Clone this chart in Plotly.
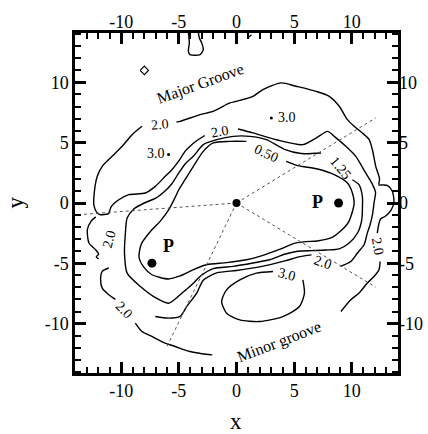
import plotly.graph_objects as go

# ---------------- data ----------------
# 2.0 contour, major-groove outer boundary (None = label gap)
c20_outer_x = [-11.07, -11.78, -12.07, -12.36, -12.3, -12.07, -11.64, -10.78, -9.91, -9.05, -8.19, None,
               -5.2, -4.89, -3.16, -2.04, -0.58, 0.0, 1.43, 2.29, 3.88, 5.17, 6.90, 8.04, 8.91, 9.62, 10.20,
               10.91, 11.49, 11.78, 12.07, 12.4, 12.35, 12.7, 13.1, 13.5, 13.65, 13.4, 12.9, 12.5, 12.35, 12.2, None,
               12.45, 12.35, 11.92, 11.34, 10.63, 9.91, 9.05]
c20_outer_y = [-0.89, -0.97, -0.83, -0.2, 1.1, 2.21, 3.04, 3.87, 4.70, 5.67, 6.36, None,
               6.72, 6.77, 7.33, 7.60, 8.30, 8.44, 8.85, 9.41, 9.96, 9.68, 9.26, 8.85, 8.02, 6.91, 6.36,
               5.81, 5.27, 4.42, 3.04, 2.0, 1.5, 1.5, 1.45, 1.0, 0.1, -0.6, -1.1, -1.3, -1.7, -2.5, None,
               -4.85, -5.53, -6.09, -6.64, -7.47, -8.02, -9.0]
# 2.0 contour, inner branch
c20_inner_x = [-11.07, -10.84, -10.2, -9.34, -7.9, -7.04, -6.18, -5.6, -5.03, -4.46, -4.03, -3.4, -2.75, None,
               0.14, 1.43, 3.45, 5.74, 6.9, 7.9, 8.47, 9.48, 10.34, 11.2, 11.7, 12.05, 11.92, 11.8, 11.58, 11.34,
               11.06, 10.48, 9.91, 9.0, None,
               6.5, 5.5, 4.2, 2.0, 0.0, -1.72, -2.88, -3.45, -4.31, -4.89, -5.9, -7.04]
c20_inner_y = [-0.89, -0.28, 0.27, 0.69, 0.83, 1.38, 2.21, 2.76, 3.45, 4.28, 4.70, 5.2, 5.6, None,
               6.14, 5.81, 5.25, 4.84, 5.39, 5.94, 5.53, 4.70, 3.87, 2.49, 1.7, 0.9, 0.0, -0.9, -1.8, -2.49,
               -3.46, -4.15, -4.85, -5.25, None,
               -4.3, -4.45, -4.8, -5.3, -5.6, -5.8, -6.4, -7.47, -8.58, -9.41, -9.55, -9.41]
# 2.0 contour, left piece
c20_left_x = [-12.2, -12.6, -12.93, -12.79, -12.22, -11.95, -12.15, -11.95]
c20_left_y = [-1.15, -1.5, -2.21, -3.32, -3.87, -4.25, -4.45, -4.65]
# 2.0 contour, lower-left (minor groove outer)
c20_ll_x = [-11.07, -11.64, -11.78, -11.64, -11.07, -10.5, None, -8.77, -8.19, -7.33, -6.18, -5.32, -4.03, -3.0, -2.1]
c20_ll_y = [-5.39, -5.67, -6.37, -7.06, -7.61, -8.0, None, -9.96, -10.66, -11.07, -11.62, -11.9, -12.32, -12.5, -12.6]
# 1.25 contour
c125_x = [7.33, 5.6, 4.16, 2.59, 1.15, -0.29, -1.72, -2.88, -3.74, -4.4, -5.0, -5.6, -6.2, -7.0, -8.0, -8.9,
          -9.48, -9.63, -9.71, -9.48, -8.33, -7.18, -5.89, -4.74, -3.74, -3.16, -2.02, -0.29, 1.43, 2.87, 4.16,
          5.3, 6.6, 7.76, 8.91, 9.77, 10.49, 10.86, 10.92, 10.91, 10.63, 10.05]
c125_y = [4.15, 4.1, 4.45, 5.25, 5.53, 5.53, 5.25, 4.84, 3.87, 3.3, 2.5, 1.6, 1.0, 0.4, 0.0, -0.5,
          -1.25, -2.49, -4.16, -5.82, -6.93, -7.76, -8.31, -7.48, -6.65, -6.09, -5.45, -5.26, -4.98, -4.71, -4.25,
          -4.0, -3.95, -3.9, -3.8, -3.32, -2.49, -1.39, -0.28, 0.55, 1.5, 1.93]
# 0.50 contour
c050_x = [4.31, 5.31, 7.03, 8.47, 9.62, 10.05, 10.2, 10.05, 9.7, 9.05, 8.19, 7.0, 6.0, 5.0, 3.73, 2.01, 0.86,
          -0.86, -2.59, -3.74, -4.89, -5.9, -7.33, -8.05, -8.45, -8.25, -7.5, -6.6, -5.9, -5.4, -5.0, -4.46,
          -3.74, -2.88, -2.02, -0.58, 0.86]
c050_y = [3.45, 3.1, 2.82, 2.35, 1.66, 0.83, 0.0, -0.7, -1.6, -2.3, -2.9, -3.15, -3.2, -3.35, -3.85, -4.43, -4.71,
          -4.95, -5.12, -5.53, -6.05, -6.3, -5.95, -5.3, -4.5, -3.4, -2.4, -1.5, -0.6, 0.3, 1.1, 1.93,
          3.04, 4.28, 4.98, 5.11, 5.11]
# 3.0 contour, minor groove
c30_x = [5.75, 5.89, 5.46, 4.02, 2.01, 0.29, -0.86, -1.29, -0.86, 0.29, 1.72, 3.16]
c30_y = [-6.37, -7.48, -8.59, -9.42, -9.83, -9.70, -9.14, -8.17, -7.20, -6.37, -5.82, -5.68]
# small closed pieces near top
diamond_x = [-8.35, -7.99, -7.63, -7.99, -8.35]
diamond_y = [11.0, 11.35, 11.0, 10.65, 11.0]
blob_x = [-4.17, -4.09, -4.17, -4.03, -3.16, -2.88, -3.02, -3.22, -3.3]
blob_y = [14.1, 13.28, 12.58, 12.31, 12.31, 12.72, 13.28, 13.69, 14.1]
nick_x = [1.0, 1.3]
nick_y = [13.7, 13.95]

# radial dotted lines from the origin
ray_end_x = [-13.7, 12.07, 12.07, -6.03]
ray_end_y = [-0.97, 7.06, -6.98, -11.91]

# points
p_x = [8.85, -7.33]
p_y = [0.0, -4.99]
p_label_x = [7.04, -5.89]
p_label_y = [0.1, -3.6]
dot30_x = [-5.89, 3.02]
dot30_y = [4.02, 7.05]

# contour labels
lab_text = ["2.0", "3.0", "2.0", "3.0", "0.50", "1.25", "2.0", "2.0", "3.0", "2.0", "2.0"]
lab_x = [-6.61, -7.0, -1.44, 4.4, 2.59, 9.05, 12.25, 7.5, 4.35, -11.07, -9.71]
lab_y = [6.55, 4.1, 5.96, 7.12, 4.1, 2.85, -3.6, -4.95, -5.96, -2.99, -8.92]
lab_ang = [-5, 0, -10, 0, 25, 50, 80, 20, 15, -75, 45]

tick_vals = [-10, -5, 0, 5, 10]
tick_text = ["-10", "-5", "0", "5", "10"]

# ---------------- figure ----------------
SERIF = "Liberation Serif"
fig = go.Figure()

line_style = dict(color="black", width=1.4, shape="spline", smoothing=0.7)
for xs, ys in [(c20_outer_x, c20_outer_y), (c20_inner_x, c20_inner_y), (c20_left_x, c20_left_y),
               (c20_ll_x, c20_ll_y), (c125_x, c125_y), (c050_x, c050_y), (c30_x, c30_y),
               (blob_x, blob_y)]:
    fig.add_trace(go.Scatter(x=xs, y=ys, mode="lines", line=line_style, hoverinfo="skip", showlegend=False))
for xs, ys in [(diamond_x, diamond_y), (nick_x, nick_y)]:
    fig.add_trace(go.Scatter(x=xs, y=ys, mode="lines", line=dict(color="black", width=1.2),
                             hoverinfo="skip", showlegend=False))

rx, ry = [], []
for ex, ey in zip(ray_end_x, ray_end_y):
    rx += [0, ex, None]
    ry += [0, ey, None]
fig.add_trace(go.Scatter(x=rx, y=ry, mode="lines", line=dict(color="#555555", width=1, dash="dot"),
                         hoverinfo="skip", showlegend=False))

fig.add_trace(go.Scatter(x=[0], y=[0], mode="markers", marker=dict(color="black", size=8), showlegend=False))
fig.add_trace(go.Scatter(x=p_x, y=p_y, mode="markers", marker=dict(color="black", size=9), showlegend=False))
fig.add_trace(go.Scatter(x=dot30_x, y=dot30_y, mode="markers", marker=dict(color="black", size=3), showlegend=False))
fig.add_trace(go.Scatter(x=[None], y=[None], xaxis="x2", yaxis="y2", showlegend=False))

for t, x, y, a in zip(lab_text, lab_x, lab_y, lab_ang):
    fig.add_annotation(x=x, y=y, text=t, textangle=a, showarrow=False,
                       font=dict(family=SERIF, size=14, color="black"))
for x, y in zip(p_label_x, p_label_y):
    fig.add_annotation(x=x, y=y, text="<b>P</b>", showarrow=False,
                       font=dict(family=SERIF, size=18, color="black"))
fig.add_annotation(x=-3.16, y=9.85, text="Major Groove", textangle=-20, showarrow=False,
                   font=dict(family=SERIF, size=16, color="black"))
fig.add_annotation(x=3.68, y=-11.5, text="Minor groove", textangle=-21, showarrow=False,
                   font=dict(family=SERIF, size=16, color="black"))
fig.add_annotation(xref="paper", yref="paper", x=0.498, y=-0.186, text="x", showarrow=False,
                   font=dict(family=SERIF, size=23, color="black"))
fig.add_annotation(xref="paper", yref="paper", x=-0.232, y=0.5, text="y", textangle=-90, showarrow=False,
                   font=dict(family=SERIF, size=23, color="black"))

axis_common = dict(showgrid=False, zeroline=False, tickvals=tick_vals, ticktext=tick_text, automargin=False,
                   tickfont=dict(family=SERIF, size=18, color="black"))
fig.update_layout(
    width=428, height=434,
    margin=dict(l=75, r=30, t=33, b=61, autoexpand=False),
    paper_bgcolor="white", plot_bgcolor="white",
    xaxis=dict(range=[-14, 14], ticks="inside", ticklen=11, tickwidth=2.5, tickcolor="black",
               showline=True, linewidth=2.5, linecolor="black", mirror="ticks",
               minor=dict(dtick=1, tick0=0, ticks="inside", ticklen=6, tickwidth=1.5, tickcolor="black"),
               **axis_common),
    yaxis=dict(range=[-14.1, 14.1], ticks="inside", ticklen=11, tickwidth=2.5, tickcolor="black",
               showline=True, linewidth=2.5, linecolor="black", mirror="ticks",
               minor=dict(dtick=1, tick0=0, ticks="inside", ticklen=6, tickwidth=1.5, tickcolor="black"),
               **axis_common),
    xaxis2=dict(range=[-14, 14], overlaying="x", side="top", ticks="", showline=False, **axis_common),
    yaxis2=dict(range=[-14.1, 14.1], overlaying="y", side="right", ticks="", showline=False, **axis_common),
)

fig.write_html("out.html", config={"displayModeBar": False},
               post_script="document.body.style.margin='0';document.body.style.overflow='hidden';")
